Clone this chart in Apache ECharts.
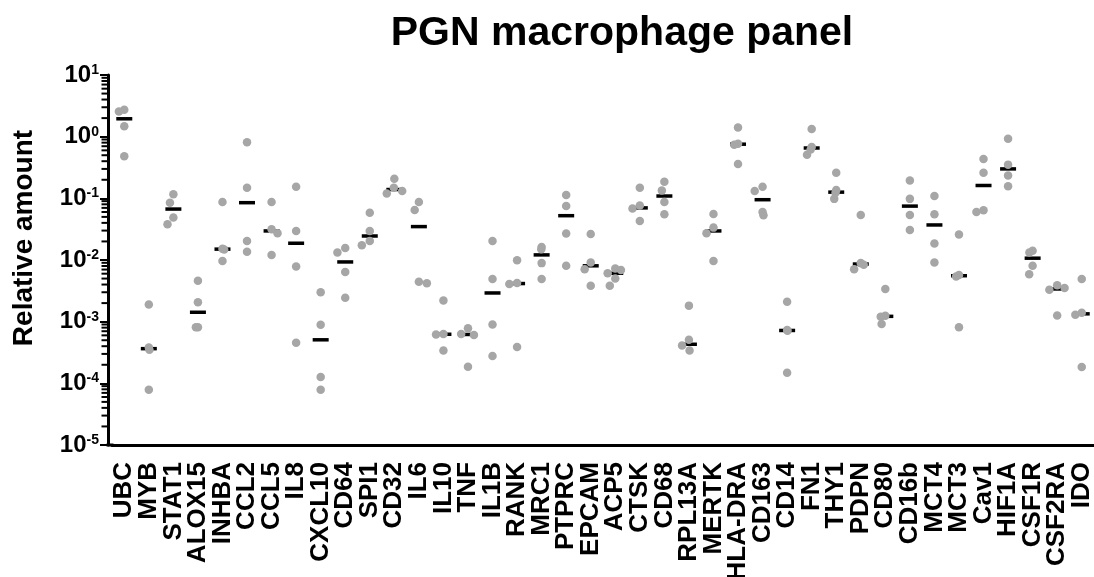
<!DOCTYPE html>
<html>
<head>
<meta charset="utf-8">
<script src="https://cdn.jsdelivr.net/npm/echarts@6/dist/echarts.min.js"></script>
<style>
html,body{margin:0;padding:0;background:#fff;}
#chart{width:1094px;height:577px;}
</style>
</head>
<body>
<div id="chart"></div>
<script>
const titleText = 'PGN macrophage panel';
const yTitle = 'Relative amount';
const categories = ['UBC','MYB','STAT1','ALOX15','INHBA','CCL2','CCL5','IL8','CXCL10','CD64','SPI1','CD32','IL6','IL10','TNF','IL1B','RANK','MRC1','PTPRC','EPCAM','ACP5','CTSK','CD68','RPL13A','MERTK','HLA-DRA','CD163','CD14','FN1','THY1','PDPN','CD80','CD16b','MCT4','MCT3','Cav1','HIF1A','CSF1R','CSF2RA','IDO'];
const values = [
  [2.72, 2.56, 1.47, 0.48],
  [1.9e-3, 3.8e-4, 3.5e-4, 7.9e-5],
  [0.116, 0.085, 0.049, 0.038],
  [4.6e-3, 2.06e-3, 8.1e-4, 8.1e-4],
  [0.087, 0.0152, 0.0148, 9.6e-3],
  [0.81, 0.148, 0.0204, 0.0136],
  [0.087, 0.0315, 0.0271, 0.012],
  [0.154, 0.0296, 7.85e-3, 4.55e-4],
  [2.99e-3, 8.9e-4, 1.27e-4, 7.9e-5],
  [0.0156, 0.0132, 6.4e-3, 2.45e-3],
  [0.0585, 0.0296, 0.0204, 0.0174],
  [0.207, 0.148, 0.131, 0.12],
  [0.087, 0.0646, 4.45e-3, 4.18e-3],
  [2.2e-3, 6.3e-4, 6.2e-4, 3.4e-4],
  [7.85e-4, 6.3e-4, 6.1e-4, 1.86e-4],
  [0.0204, 4.9e-3, 9.0e-4, 2.77e-4],
  [9.9e-3, 4.23e-3, 4.07e-3, 3.9e-4],
  [0.0163, 0.015, 8.9e-3, 4.9e-3],
  [0.113, 0.075, 0.0268, 8.05e-3],
  [0.0264, 9.1e-3, 7.1e-3, 3.83e-3],
  [7.3e-3, 6.9e-3, 6.1e-3, 5.0e-3, 3.83e-3],
  [0.148, 0.0767, 0.0687, 0.0429],
  [0.185, 0.134, 0.087, 0.055],
  [1.82e-3, 5.1e-4, 4.1e-4, 3.4e-4],
  [0.0555, 0.0335, 0.0271, 9.6e-3],
  [1.41, 0.77, 0.74, 0.36],
  [0.154, 0.131, 0.060, 0.053],
  [2.11e-3, 7.3e-4, 7.1e-4, 1.49e-4],
  [1.33, 0.68, 0.62, 0.51],
  [0.259, 0.136, 0.123, 0.098],
  [0.0536, 8.9e-3, 8.35e-3, 7.1e-3],
  [3.4e-3, 1.25e-3, 1.2e-3, 9.2e-4],
  [0.194, 0.098, 0.0536, 0.0307],
  [0.109, 0.055, 0.0185, 9.1e-3],
  [0.026, 5.7e-3, 5.4e-3, 8.1e-4],
  [0.435, 0.259, 0.0638, 0.060],
  [0.927, 0.352, 0.234, 0.157],
  [0.0141, 0.0132, 8.05e-3, 5.9e-3],
  [3.9e-3, 3.5e-3, 3.3e-3, 1.26e-3],
  [4.9e-3, 1.4e-3, 1.3e-3, 1.84e-4]
];
const medians = [1.95, 3.65e-4, 0.067, 1.42e-3, 0.015, 0.085, 0.0296, 0.0187, 5.08e-4, 9.3e-3,
  0.0245, 0.139, 0.0348, 6.25e-4, 6.2e-4, 2.92e-3, 4.15e-3, 0.0121, 0.0523, 8.05e-3,
  6.1e-3, 0.07, 0.109, 4.3e-4, 0.0296, 0.755, 0.095, 7.2e-4, 0.655, 0.126,
  8.6e-3, 1.22e-3, 0.0748, 0.037, 5.56e-3, 0.1615, 0.30, 0.0107, 3.39e-3, 1.34e-3];
const yMin = 1e-5, yMax = 10;
const minorMultipliers = [2,3,4,5,6,7,8,9];
const decadeExponents = [-5,-4,-3,-2,-1,0];

const dots = [];
values.forEach((arr, i) => arr.forEach(v => dots.push([i, v])));
const medianData = medians.map((m, i) => [i, m]);
const minorTicks = [];
decadeExponents.forEach(e => minorMultipliers.forEach(m => minorTicks.push([0, m * Math.pow(10, e)])));

const GRID_LEFT = 112, GRID_RIGHT = 0, CHART_W = 1094;
const band = (CHART_W - GRID_LEFT - GRID_RIGHT) / categories.length;
const minorTickOffset = -(band / 2 + 4 + 3.5);

const FONT = 'Liberation Sans';
const chart = echarts.init(document.getElementById('chart'));
chart.setOption({
  animation: false,
  backgroundColor: '#ffffff',
  title: {
    text: titleText, left: 617, top: 8, textAlign: 'center',
    textStyle: {fontFamily: FONT, fontWeight: 'bold', fontSize: 41, color: '#000'}
  },
  graphic: [
    {type: 'text', x: 24, y: 238, rotation: Math.PI / 2,
     style: {text: yTitle, font: 'bold 28px "Liberation Sans"', fill: '#000', align: 'center', verticalAlign: 'middle'}},
    {type: 'rect', shape: {x: 106.5, y: 443.5, width: 7, height: 3}, style: {fill: '#000'}, z: 100}
  ],
  grid: {left: GRID_LEFT, right: GRID_RIGHT, top: 75, bottom: 132, containLabel: false, outerBoundsMode: 'none'},
  xAxis: [{
    type: 'category', data: categories,
    jitter: 22, jitterOverlap: false, jitterMargin: 0.5,
    axisLine: {lineStyle: {color: '#000', width: 3}},
    axisTick: {alignWithLabel: true, length: 8, lineStyle: {color: '#000', width: 2}},
    axisLabel: {rotate: 90, interval: 0, margin: 17, color: '#000', fontFamily: FONT, fontWeight: 'bold', fontSize: 26},
    splitLine: {show: false}
  }, {
    type: 'category', data: categories, show: false
  }],
  yAxis: {
    type: 'log', logBase: 10, min: yMin, max: yMax, splitNumber: 6, offset: 4,
    axisLine: {show: true, lineStyle: {color: '#000', width: 3}},
    axisTick: {show: true, length: 8, lineStyle: {color: '#000', width: 2}},
    splitLine: {show: false},
    axisLabel: {
      margin: 9,
      formatter: v => '{b|10}{s|' + Math.round(Math.log10(v)) + '}',
      rich: {
        b: {fontFamily: FONT, fontWeight: 'bold', fontSize: 24, color: '#000', lineHeight: 24},
        s: {fontFamily: FONT, fontWeight: 'bold', fontSize: 14, color: '#000', lineHeight: 14, verticalAlign: 'top'}
      }
    }
  },
  series: [
    {
      type: 'scatter', xAxisIndex: 1, data: minorTicks, symbol: 'rect', symbolSize: [6, 2],
      symbolOffset: [minorTickOffset, 0], clip: false,
      itemStyle: {color: '#000', opacity: 1}, z: 1, silent: true
    },
    {
      type: 'scatter', xAxisIndex: 1, data: medianData, symbol: 'rect', symbolSize: [16, 3.5],
      itemStyle: {color: '#000', opacity: 1}, z: 2, silent: true
    },
    {
      type: 'scatter', xAxisIndex: 0, data: dots, symbol: 'circle', symbolSize: 8.5,
      itemStyle: {color: '#a6a6a6', opacity: 1}, z: 3, silent: true
    }
  ]
});
</script>
</body>
</html>
